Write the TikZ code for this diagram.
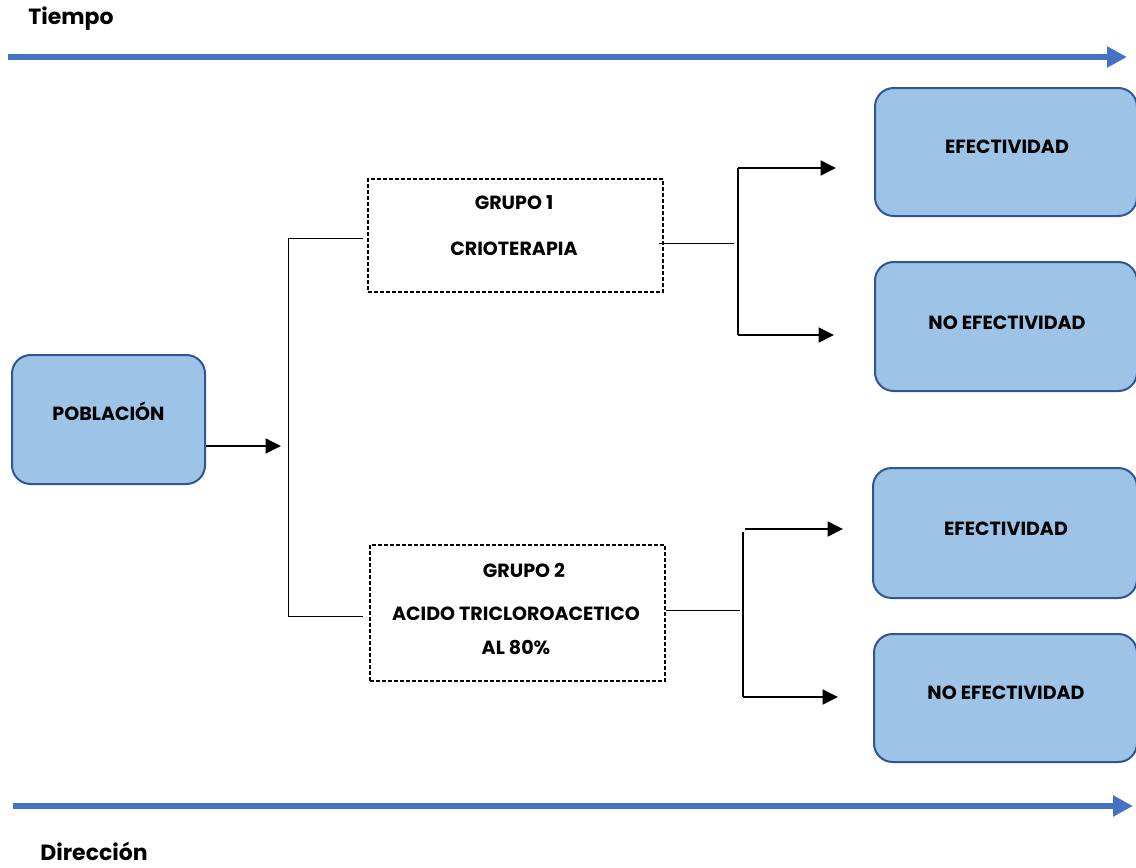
\documentclass[tikz,border=0pt]{standalone}
\usepackage{fontspec}
\setmainfont{Poppins}
\usetikzlibrary{arrows.meta}
\definecolor{bluearrow}{HTML}{4472C4}
\definecolor{boxfill}{HTML}{9DC3E6}
\definecolor{boxedge}{HTML}{2F5597}
\begin{document}
\begin{tikzpicture}[x=0.75pt,y=-0.75pt,
  bluebox/.style={draw=boxedge, fill=boxfill, line width=1.5pt, rounded corners=14pt, inner sep=0pt},
  groupbox/.style={draw=black, line width=1pt, dash pattern=on 3pt off 1.5pt, inner sep=0pt},
  lbl/.style={font=\bfseries\fontsize{14.3}{17}\selectfont, inner sep=0pt},
  ttl/.style={font=\bfseries\fontsize{16.5}{19}\selectfont, inner sep=0pt},
  thin/.style={draw=black, line width=0.7pt},
  arr/.style={draw=black, line width=1.9pt, -{Triangle[length=11.5pt,width=11pt]}},
  timearrow/.style={draw=bluearrow, line width=3.8pt, -{Triangle[length=15pt,width=15pt]}}
]
\useasboundingbox (0,0) rectangle (1136,868);

% time / direction
\node[ttl] (tiempo) at (71,19) {Tiempo};
\coordinate (t0) at (8,57);
\coordinate (t1) at (1127,57);
\draw[timearrow] (t0) -- (t1);
\coordinate (d0) at (13,806);
\coordinate (d1) at (1133,806);
\draw[timearrow] (d0) -- (d1);
\node[ttl] (direccion) at (94,851) {Dirección};

% boxes
\node[bluebox, minimum width=144.75pt, minimum height=96.75pt] (P) at (108.5,419.5) {};
\node[lbl] (Pt) at (108.5,411) {POBLACIÓN};

\node[groupbox, minimum width=221.25pt, minimum height=84.75pt] (G1) at (515.5,235.5) {};
\node[lbl] (G1a) at (514,203) {GRUPO 1};
\node[lbl] (G1b) at (514,249) {CRIOTERAPIA};

\node[groupbox, minimum width=221.25pt, minimum height=102pt] (G2) at (517.5,613) {};
\node[lbl] (G2a) at (524,570) {GRUPO 2};
\node[lbl] (G2b) at (516,614) {ACIDO TRICLOROACETICO};
\node[lbl] (G2c) at (516,648) {AL 80\%};

\node[bluebox, minimum width=196.5pt, minimum height=96pt] (E1) at (1006,152) {};
\node[lbl] (E1t) at (1007,147) {EFECTIVIDAD};
\node[bluebox, minimum width=196.5pt, minimum height=96.75pt] (N1) at (1006,326.5) {};
\node[lbl] (N1t) at (1007,323) {NO EFECTIVIDAD};
\node[bluebox, minimum width=198pt, minimum height=97.5pt] (E2) at (1005,533) {};
\node[lbl] (E2t) at (1006,529) {EFECTIVIDAD};
\node[bluebox, minimum width=197.25pt, minimum height=96pt] (N2) at (1005.5,698) {};
\node[lbl] (N2t) at (1006,693) {NO EFECTIVIDAD};

% connectors
\coordinate (pa) at (281,446);
\draw[arr] (P.east |- pa) -- (pa);

\coordinate (bl1) at (363,238);
\coordinate (bl2) at (363,616);
\coordinate (bx) at (288,0);
\draw[thin] (bl1) -- (bx |- bl1) -- (bx |- bl2) -- (bl2);

% group 1 outputs
\coordinate (g1o) at (659,243);
\coordinate (g1m) at (734,243);
\draw[thin] (g1o) -- (g1m);
\coordinate (v1t) at (738,168);
\coordinate (v1b) at (738,335);
\draw[thin, line width=1pt] (v1t) -- (v1b);
\coordinate (a1e) at (836,168);
\coordinate (a2e) at (834,335);
\draw[arr] (v1t) -- (a1e);
\draw[arr] (v1b) -- (a2e);

% group 2 outputs
\coordinate (g2m) at (740,610);
\draw[thin] (G2.east |- g2m) -- (g2m);
\coordinate (v2t) at (743,532);
\coordinate (v2b) at (743,697);
\draw[thin, line width=1pt] (v2t) -- (v2b);
\coordinate (a3s) at (745,529);
\coordinate (a3e) at (843,529);
\coordinate (a4e) at (838,697);
\draw[arr] (a3s) -- (a3e);
\draw[arr] (v2b) -- (a4e);
\end{tikzpicture}
\end{document}
